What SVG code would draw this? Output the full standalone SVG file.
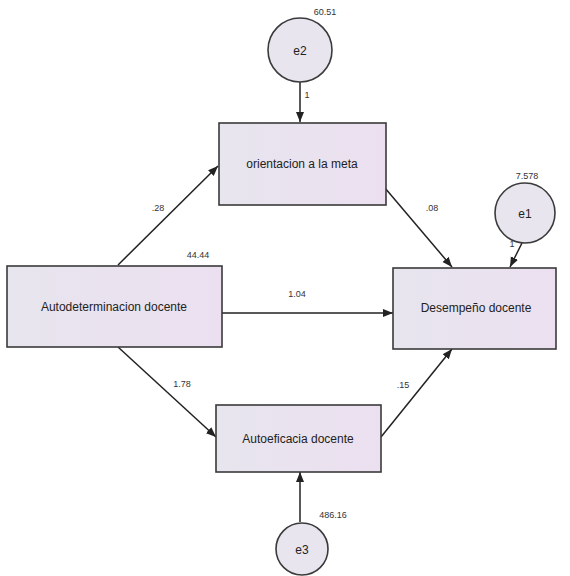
<svg xmlns="http://www.w3.org/2000/svg" width="570" height="576" viewBox="0 0 570 576">
<style>
.box{fill:url(#g);stroke:#3a3a3a;stroke-width:1.6}
.circ{fill:#e8e5ef;stroke:#3a3a3a;stroke-width:1.6}
.t{font-family:"Liberation Sans",Arial,sans-serif;font-size:12px;fill:#222;text-anchor:middle}
.s{font-family:"Liberation Sans",Arial,sans-serif;font-size:9px;fill:#333;text-anchor:middle}
.c{stroke:#222;stroke-width:1.5;fill:none;marker-end:url(#a)}
</style>
<defs>
<linearGradient id="g" x1="0" y1="0" x2="1" y2="0">
<stop offset="0" stop-color="#e7e5ee"/>
<stop offset="1" stop-color="#ece0f0"/>
</linearGradient>
<marker id="a" viewBox="0 0 10 10" refX="10" refY="5" markerWidth="10" markerHeight="10" markerUnits="userSpaceOnUse" orient="auto">
<path d="M0,1 L10,5 L0,9 z" fill="#222"/>
</marker>
</defs>
<rect width="570" height="576" fill="#fff"/>
<g id="connectors">
<line class="c" x1="300" y1="82" x2="300" y2="122"/>
<line class="c" x1="118" y1="265" x2="218" y2="166"/>
<line class="c" x1="385" y1="188" x2="452" y2="267"/>
<line class="c" x1="522" y1="243" x2="510" y2="267"/>
<line class="c" x1="222" y1="313" x2="393" y2="313"/>
<line class="c" x1="118" y1="347" x2="216" y2="437"/>
<line class="c" x1="381" y1="437" x2="452" y2="349"/>
<line class="c" x1="300" y1="522" x2="300" y2="472"/>
<text class="s" x="307" y="98">1</text>
<text class="s" x="158" y="211">.28</text>
<text class="s" x="432" y="211">.08</text>
<text class="s" x="512" y="247">1</text>
<text class="s" x="297" y="297">1.04</text>
<text class="s" x="182" y="387">1.78</text>
<text class="s" x="403" y="388">.15</text>
</g>
<g id="e2">
<circle class="circ" cx="300" cy="50" r="32"/>
<text class="t" x="300" y="55">e2</text>
<text class="s" x="325" y="15">60.51</text>
</g>
<g id="e1">
<circle class="circ" cx="525" cy="213" r="30"/>
<text class="t" x="525" y="218">e1</text>
<text class="s" x="527" y="179">7.578</text>
</g>
<g id="e3">
<circle class="circ" cx="302" cy="549" r="26"/>
<text class="t" x="302" y="554">e3</text>
<text class="s" x="333" y="518">486.16</text>
</g>
<g id="orientacion">
<rect class="box" x="219" y="123" width="167" height="82"/>
<text class="t" x="302" y="168">orientacion a la meta</text>
</g>
<g id="autodeterminacion">
<rect class="box" x="7" y="266" width="215" height="81"/>
<text class="t" x="114" y="311">Autodeterminacion docente</text>
<text class="s" x="198" y="258">44.44</text>
</g>
<g id="desempeno">
<rect class="box" x="393" y="268" width="163" height="81"/>
<text class="t" x="476" y="312">Desempeño docente</text>
</g>
<g id="autoeficacia">
<rect class="box" x="216" y="405" width="165" height="67"/>
<text class="t" x="298" y="443">Autoeficacia docente</text>
</g>
</svg>
